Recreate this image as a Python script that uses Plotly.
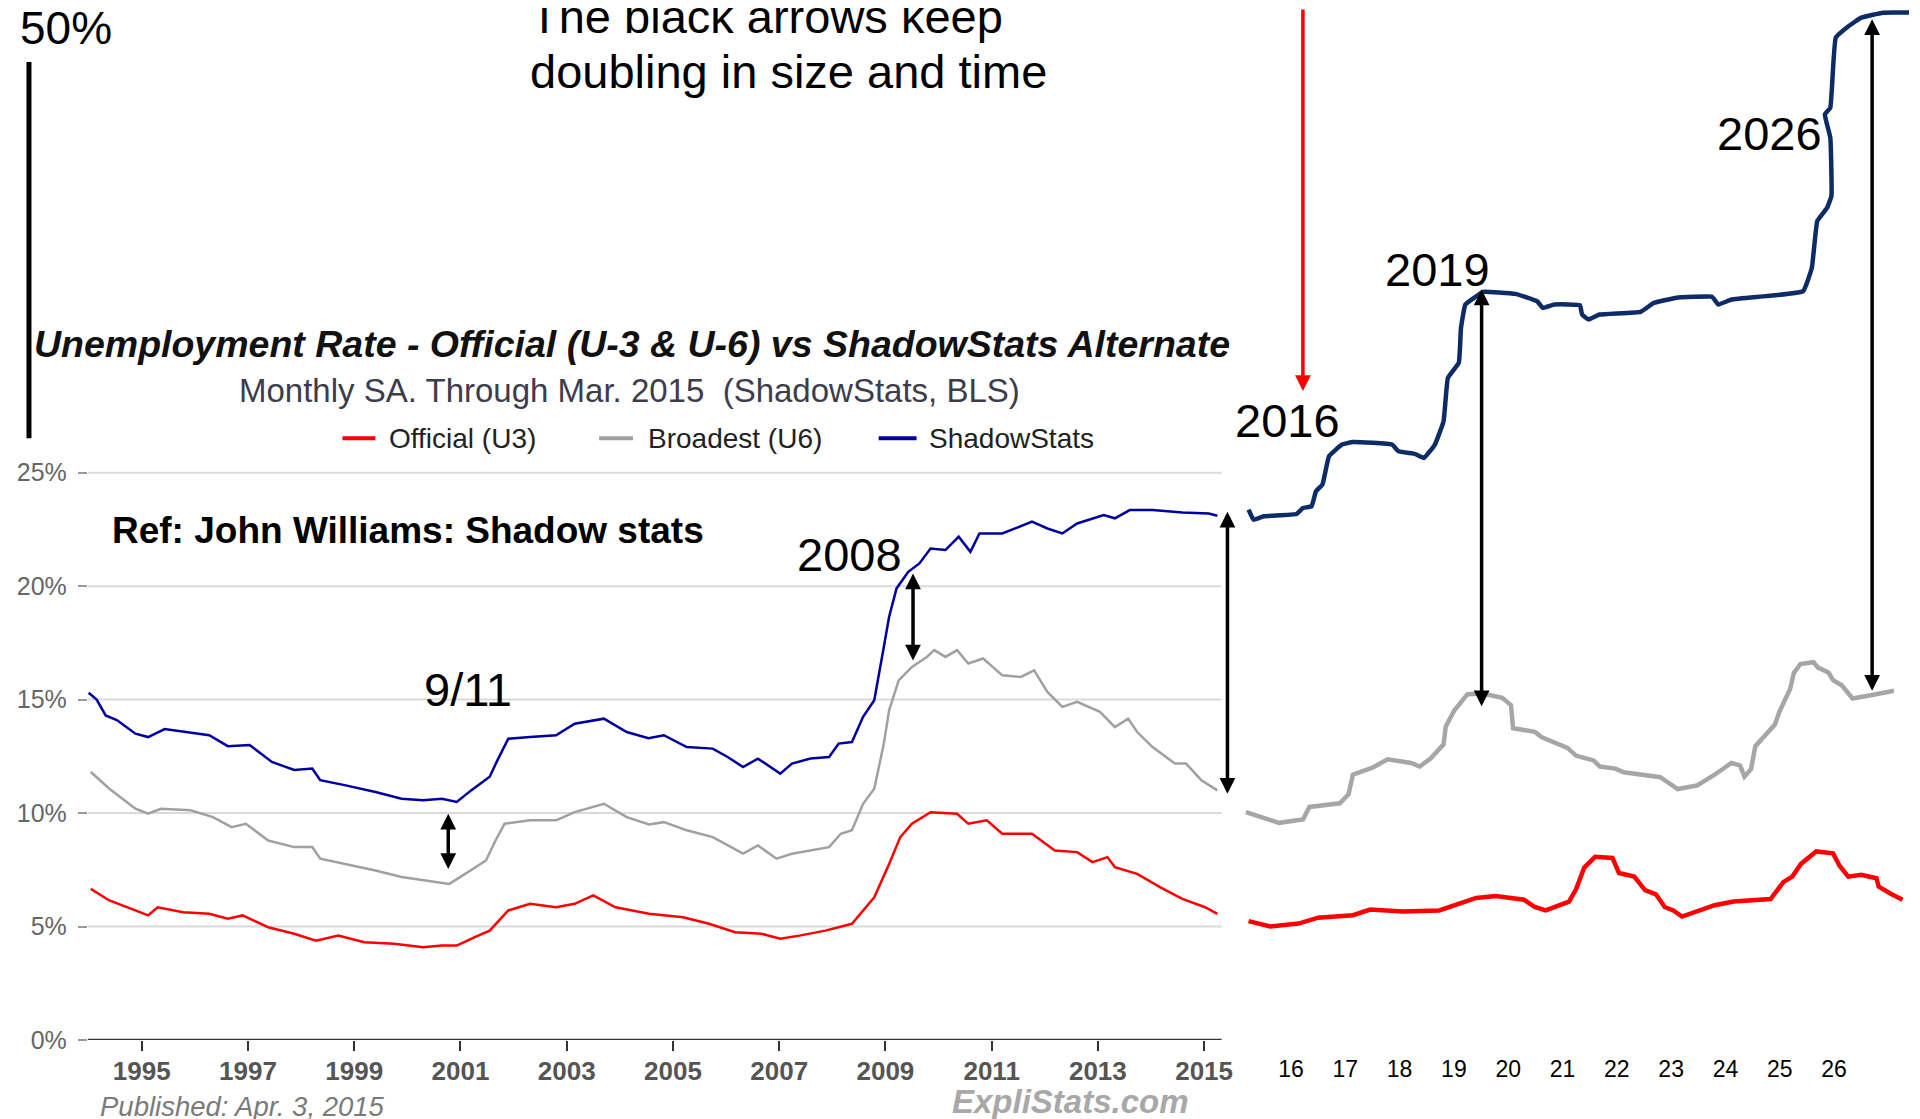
import plotly.graph_objects as go

# the page body keeps its default 8px margin; the captured page is also squeezed a little
# vertically, so page rows are mapped with SY / OY below
OFF = 8
SY, OY = 0.987, 7
W, H = 1920 - 2 * OFF, 1127

# left panel: ShadowStats chart, monthly SA through Mar. 2015
u3_years = [1994.04, 1994.39, 1994.88, 1995.12, 1995.3, 1995.78, 1996.27, 1996.62, 1996.9, 1997.38,
            1997.87, 1998.28, 1998.7, 1999.19, 1999.75, 2000.3, 2000.65, 2000.93, 2001.27, 2001.55,
            2001.9, 2002.31, 2002.8, 2003.15, 2003.5, 2003.92, 2004.55, 2005.19, 2005.68, 2006.17,
            2006.67, 2007.02, 2007.38, 2007.87, 2008.37, 2008.79, 2009.07, 2009.28, 2009.5, 2009.85,
            2010.35, 2010.56, 2010.91, 2011.2, 2011.76, 2012.19, 2012.61, 2012.9, 2013.18, 2013.32,
            2013.74, 2014.17, 2014.59, 2015.02, 2015.25]
u3_rate = [6.66, 6.15, 5.71, 5.49, 5.85, 5.63, 5.56, 5.34, 5.49, 4.97,
           4.68, 4.38, 4.6, 4.31, 4.24, 4.09, 4.16, 4.16, 4.53, 4.82,
           5.71, 6.0, 5.85, 6.0, 6.37, 5.85, 5.56, 5.41, 5.12, 4.75,
           4.68, 4.46, 4.6, 4.82, 5.12, 6.29, 7.76, 8.94, 9.53, 10.04,
           9.97, 9.53, 9.68, 9.09, 9.09, 8.35, 8.28, 7.84, 8.06, 7.62,
           7.32, 6.74, 6.22, 5.85, 5.56]

u6_years = [1994.04, 1994.39, 1994.88, 1995.12, 1995.36, 1995.92, 1996.34, 1996.69, 1996.96, 1997.38,
            1997.87, 1998.21, 1998.36, 1998.84, 1999.4, 1999.89, 2000.3, 2000.79, 2001.14, 2001.48,
            2001.66, 2001.83, 2002.31, 2002.8, 2003.15, 2003.7, 2004.13, 2004.55, 2004.83, 2005.26,
            2005.75, 2006.32, 2006.6, 2006.95, 2007.24, 2007.59, 2007.94, 2008.16, 2008.37, 2008.58,
            2008.79, 2008.97, 2009.07, 2009.25, 2009.5, 2009.78, 2009.92, 2010.13, 2010.35, 2010.56,
            2010.84, 2011.2, 2011.55, 2011.8, 2012.05, 2012.33, 2012.61, 2013.04, 2013.32, 2013.57,
            2013.74, 2014.03, 2014.45, 2014.66, 2014.95, 2015.25]
u6_rate = [11.81, 11.07, 10.19, 9.97, 10.19, 10.12, 9.82, 9.38, 9.53, 8.79,
           8.5, 8.5, 7.99, 7.76, 7.47, 7.18, 7.03, 6.88, 7.4, 7.91,
           8.79, 9.53, 9.68, 9.68, 10.04, 10.41, 9.82, 9.5, 9.6, 9.24,
           8.94, 8.21, 8.57, 7.99, 8.21, 8.35, 8.5, 9.09, 9.24, 10.41,
           11.07, 13.06, 14.53, 15.85, 16.44, 16.88, 17.18, 16.88, 17.18, 16.59,
           16.81, 16.07, 16.0, 16.29, 15.34, 14.68, 14.9, 14.46, 13.79, 14.16,
           13.57, 12.91, 12.18, 12.18, 11.44, 11.0]

sgs_years = [1994.0, 1994.15, 1994.32, 1994.53, 1994.88, 1995.12, 1995.43, 1995.85, 1996.27, 1996.62,
             1997.03, 1997.45, 1997.87, 1998.21, 1998.36, 1998.84, 1999.4, 1999.89, 2000.3, 2000.65,
             2000.93, 2001.2, 2001.55, 2001.69, 2001.9, 2002.31, 2002.8, 2003.15, 2003.7, 2004.13,
             2004.54, 2004.83, 2005.26, 2005.75, 2006.03, 2006.32, 2006.6, 2007.02, 2007.24, 2007.59,
             2007.94, 2008.12, 2008.37, 2008.58, 2008.79, 2008.97, 2009.07, 2009.21, 2009.43, 2009.64,
             2009.85, 2010.13, 2010.38, 2010.6, 2010.77, 2011.2, 2011.76, 2012.05, 2012.33, 2012.61,
             2013.11, 2013.32, 2013.6, 2014.03, 2014.59, 2015.09, 2015.25]
sgs_rate = [15.3, 15.0, 14.3, 14.1, 13.5, 13.35, 13.7, 13.57, 13.43, 12.95,
            13.0, 12.25, 11.9, 11.96, 11.45, 11.22, 10.93, 10.63, 10.56, 10.63,
            10.49, 11.0, 11.6, 12.3, 13.28, 13.35, 13.43, 13.94, 14.16, 13.57,
            13.3, 13.43, 12.91, 12.84, 12.47, 12.03, 12.4, 11.74, 12.18, 12.4,
            12.47, 13.06, 13.13, 14.24, 14.97, 17.32, 18.65, 19.9, 20.63, 21.0,
            21.66, 21.59, 22.18, 21.51, 22.32, 22.32, 22.84, 22.54, 22.32, 22.76,
            23.13, 22.99, 23.35, 23.35, 23.24, 23.2, 23.1]

# right panel: hand-drawn continuation, years written as 16 .. 26
ext_u3_x = [15.22, 15.62, 16.14, 16.5, 17.14, 17.46, 18.06, 18.73, 19.41, 19.77,
            20.29, 20.49, 20.69, 21.12, 21.25, 21.4, 21.6, 21.92, 22.04, 22.32,
            22.52, 22.72, 22.88, 23.04, 23.2, 23.8, 24.15, 24.83, 25.07, 25.23,
            25.39, 25.67, 25.98, 26.1, 26.26, 26.5, 26.78, 26.82, 27.06, 27.26]
ext_u3 = [5.24, 5.0, 5.13, 5.39, 5.5, 5.75, 5.66, 5.71, 6.26, 6.34,
          6.18, 5.86, 5.71, 6.1, 6.65, 7.6, 8.07, 8.02, 7.36, 7.2,
          6.6, 6.42, 5.86, 5.71, 5.44, 5.94, 6.1, 6.21, 6.97, 7.2,
          7.76, 8.31, 8.23, 7.68, 7.2, 7.28, 7.13, 6.76, 6.42, 6.18]

ext_u6_x = [15.17, 15.78, 16.22, 16.34, 16.9, 17.06, 17.14, 17.5, 17.78, 18.21,
            18.37, 18.57, 18.81, 18.85, 19.01, 19.25, 19.53, 19.89, 20.05, 20.09,
            20.49, 20.61, 21.09, 21.25, 21.57, 21.69, 21.97, 22.13, 22.8, 23.12,
            23.48, 23.8, 24.11, 24.27, 24.35, 24.47, 24.55, 24.91, 24.99, 25.19,
            25.26, 25.38, 25.62, 25.7, 25.9, 25.98, 26.14, 26.34, 26.7, 27.1]
ext_u6 = [10.04, 9.57, 9.72, 10.27, 10.43, 10.83, 11.69, 12.0, 12.37, 12.21,
          12.05, 12.4, 13.03, 13.82, 14.53, 15.24, 15.27, 15.08, 14.76, 13.74,
          13.58, 13.35, 12.87, 12.53, 12.32, 12.05, 11.96, 11.8, 11.58, 11.06,
          11.22, 11.69, 12.21, 12.09, 11.61, 11.93, 12.95, 13.9, 14.45, 15.47,
          16.18, 16.57, 16.65, 16.42, 16.18, 15.86, 15.63, 15.05, 15.2, 15.39]

ext_sgs_x = [15.22, 15.31, 15.5, 16.1, 16.22, 16.38, 16.46, 16.58, 16.7, 16.94,
             17.14, 17.86, 17.98, 18.29, 18.45, 18.65, 18.81, 18.89, 19.09, 19.13,
             19.21, 19.37, 19.53, 20.13, 20.53, 20.64, 20.85, 21.32, 21.36, 21.48,
             21.68, 22.44, 22.68, 23.08, 23.75, 23.87, 24.11, 24.75, 25.43, 25.59,
             25.69, 25.87, 25.95, 25.93, 25.83, 25.93, 26.03, 26.27, 26.5, 26.9, 27.53]
ext_sgs = [23.37, 22.93, 23.08, 23.18, 23.44, 23.52, 24.18, 24.48, 25.72, 26.24,
           26.35, 26.24, 25.94, 25.82, 25.65, 26.24, 27.27, 29.18, 29.84, 31.38,
           32.41, 32.7, 32.97, 32.88, 32.56, 32.26, 32.41, 32.38, 31.97, 31.75,
           31.97, 32.09, 32.48, 32.7, 32.75, 32.41, 32.63, 32.78, 33.0, 34.03,
           36.09, 36.67, 37.19, 39.76, 40.79, 41.08, 44.17, 44.68, 45.05, 45.27, 45.27]

left_ticks = list(range(1995, 2016, 2))
right_ticks = list(range(16, 27))
pct_ticks = [0, 5, 10, 15, 20, 25]

# double headed "gap" arrows: axis, x, top, bottom
gap_arrows = [
    ('x', 2000.77, 9.97, 7.47),
    ('x', 2009.52, 20.56, 16.66),
    ('x', 2015.44, 23.28, 10.78),
    ('x2', 19.51, 33.07, 14.64),
    ('x2', 26.7, 44.98, 15.32),
]

FONT = 'Liberation Sans, Arial, sans-serif'


# positions below are measured on the 1920x1119 reference
def px(x):
    return (x - OFF) / W


def py(y):
    return 1 - (y - OY) / SY / H


fig = go.Figure()

fig.add_trace(go.Scatter(x=u3_years, y=u3_rate, mode='lines', name='Official (U3)',
                         line=dict(color='#ff0000', width=2.5)))
fig.add_trace(go.Scatter(x=u6_years, y=u6_rate, mode='lines', name='Broadest (U6)',
                         line=dict(color='#a0a0a0', width=2.5)))
fig.add_trace(go.Scatter(x=sgs_years, y=sgs_rate, mode='lines', name='ShadowStats',
                         line=dict(color='#0000a0', width=2.5)))

fig.add_trace(go.Scatter(x=ext_u3_x, y=ext_u3, mode='lines', xaxis='x2', yaxis='y2',
                         line=dict(color='#ff0000', width=4.5)))
fig.add_trace(go.Scatter(x=ext_u6_x, y=ext_u6, mode='lines', xaxis='x2', yaxis='y2',
                         line=dict(color='#a6a6a6', width=4.5)))
fig.add_trace(go.Scatter(x=ext_sgs_x, y=ext_sgs, mode='lines', xaxis='x2', yaxis='y2',
                         line=dict(color='#0d2b66', width=4.5, shape='spline', smoothing=0.3)))

zero_px = 1038.4  # reference row of the 0% line
px_per_pct = 22.68
y_range = [0, (zero_px - OY) / px_per_pct]

shapes = []
for g in pct_ticks[1:]:
    shapes.append(dict(type='line', xref='x', yref='y', x0=1993.985, x1=2015.33, y0=g, y1=g,
                       line=dict(color='#dadada', width=2), layer='below'))
shapes.append(dict(type='line', xref='x', yref='y', x0=1993.985, x1=2015.33, y0=0, y1=0,
                   line=dict(color='#333333', width=2.5)))
# the 50% bar at the top left
shapes.append(dict(type='line', xref='paper', yref='paper', x0=px(29), x1=px(29), y0=py(61), y1=py(437),
                   line=dict(color='black', width=5)))

# hand made legend
legend_items = [('Official (U3)', '#ff0000', 343, 376, 388),
                ('Broadest (U6)', '#a0a0a0', 600, 634, 647),
                ('ShadowStats', '#0000a0', 880, 918, 928)]
annotations = []
for label, col, x0, x1, tx in legend_items:
    shapes.append(dict(type='line', xref='paper', yref='paper', x0=px(x0), x1=px(x1), y0=py(437), y1=py(437),
                       line=dict(color=col, width=4)))
    annotations.append(dict(text=label, x=px(tx), y=py(437), xref='paper', yref='paper', xanchor='left',
                            yanchor='middle', showarrow=False, font=dict(size=28, color='#222222')))

for axis, x, top, bot in gap_arrows:
    yref = 'y' if axis == 'x' else 'y2'
    annotations.append(dict(x=x, y=top, ax=x, ay=bot, xref=axis, yref=yref, axref=axis, ayref=yref,
                            text='', showarrow=True, arrowhead=2, startarrowhead=2, arrowside='end+start',
                            arrowsize=0.9, startarrowsize=0.9, arrowwidth=3.5, arrowcolor='black',
                            standoff=0, startstandoff=0))
# red arrow pointing at 2016
annotations.append(dict(x=16.22, y=28.6, ax=16.22, ay=y_range[1], xref='x2', yref='y2', axref='x2', ayref='y2',
                        text='', showarrow=True, arrowhead=2, arrowsize=0.9, arrowwidth=3.5,
                        arrowcolor='#ff0000', standoff=0))

texts = [
    ('The black arrows keep', 529, 15, 47, 'black', 'left'),
    ('doubling in size and time', 529, 70, 47, 'black', 'left'),
    ('50%', 66, 27, 46, 'black', 'center'),
    ('Monthly SA. Through Mar. 2015  (ShadowStats, BLS)', 630, 389, 33, '#3c3c4c', 'center'),
    ('<b>Ref: John Williams: Shadow stats</b>', 110, 529, 37, 'black', 'left'),
    ('2008', 851, 553, 47, 'black', 'center'),
    ('9/11', 469, 688, 47, 'black', 'center'),
    ('2016', 1290, 419, 47, 'black', 'center'),
    ('2019', 1440, 268, 47, 'black', 'center'),
    ('2026', 1772, 132, 47, 'black', 'center'),
    ('<i>Published: Apr. 3, 2015</i>', 98, 1105, 27.5, '#7a7a7a', 'left'),
    ('<b><i>ExpliStats.com</i></b>', 1072, 1100, 33, '#a8a8a8', 'center'),
]
for t, x, y, size, col, anchor in texts:
    annotations.append(dict(text=t, x=px(x), y=py(y), xref='paper', yref='paper', xanchor=anchor,
                            yanchor='middle', showarrow=False, font=dict(size=size, color=col)))

fig.update_layout(
    width=W, height=H,
    margin=dict(l=0, r=0, t=0, b=0),
    paper_bgcolor='white', plot_bgcolor='white',
    showlegend=False,
    font=dict(family=FONT, color='black'),
    title=dict(text='<b><i>Unemployment Rate - Official (U-3 & U-6) vs ShadowStats Alternate</i></b>',
               x=px(632), xanchor='center', y=py(339), yanchor='middle', yref='container',
               font=dict(size=37.5, color='#111111')),
    xaxis=dict(domain=[px(88), px(1232)], range=[1993.985, 2015.489], anchor='y',
               tickvals=left_ticks, ticks='outside', ticklen=10, tickwidth=2, tickcolor='#333333',
               tickfont=dict(size=26, color='#555555', weight='bold'), ticklabelstandoff=-2,
               showgrid=False, zeroline=False, showline=False),
    yaxis=dict(domain=[py(zero_px), 1], range=y_range, anchor='x',
               tickvals=pct_ticks, ticktext=[f'{v}%' for v in pct_ticks],
               ticks='outside', ticklen=9, tickwidth=2, tickcolor='#999999',
               tickfont=dict(size=25, color='#666666'), ticklabelstandoff=6,
               showgrid=False, zeroline=False, showline=False),
    xaxis2=dict(domain=[px(1232), 1], range=[14.879, 16 + (1920 - OFF - 1293) / 54.4], anchor='y2',
                tickvals=right_ticks, ticks='outside', ticklen=10, tickcolor='rgba(0,0,0,0)',
                tickfont=dict(size=23, color='black'), ticklabelstandoff=-2,
                showgrid=False, zeroline=False, showline=False),
    yaxis2=dict(domain=[py(zero_px), 1], range=y_range, anchor='x2', visible=False),
    shapes=shapes,
    annotations=annotations,
)

fig.write_html('out.html')
